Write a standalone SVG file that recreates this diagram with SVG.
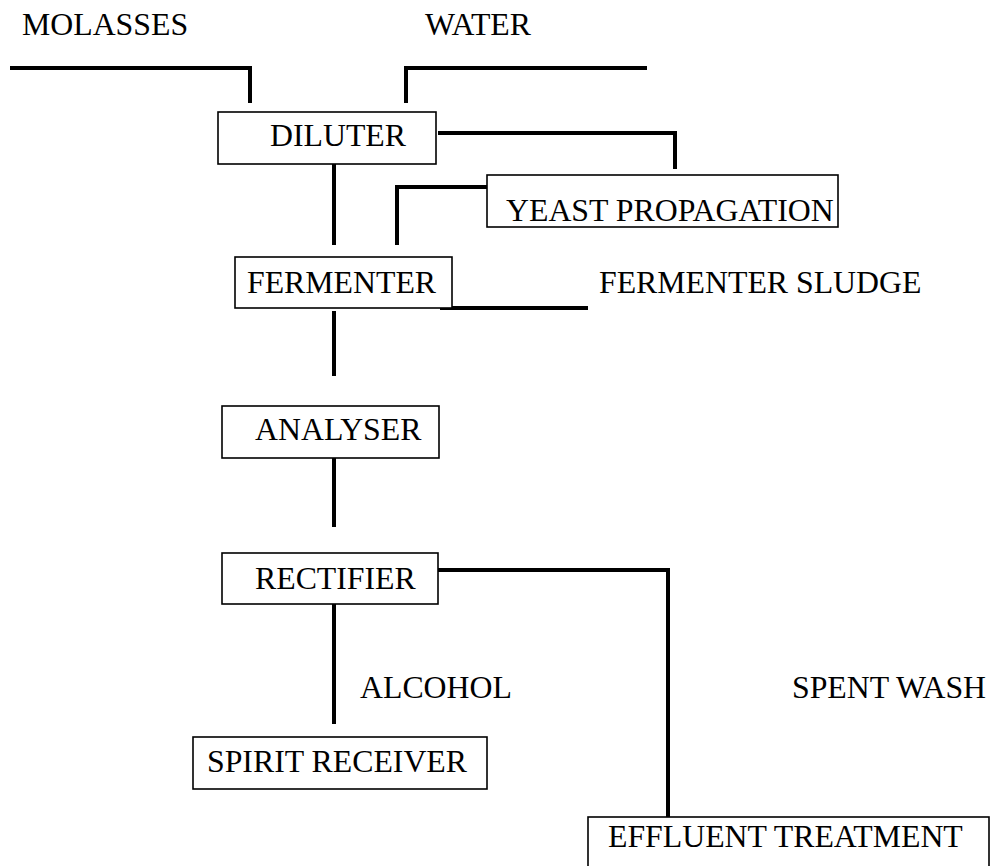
<svg xmlns="http://www.w3.org/2000/svg" width="993" height="866" viewBox="0 0 993 866">
<style>
text{font-family:"Liberation Serif","Times New Roman",serif;font-size:31.8px;fill:#000}
.box{fill:#fff;stroke:#000;stroke-width:1.6}
.pipe{fill:none;stroke:#000;stroke-width:4;stroke-linejoin:miter;stroke-linecap:butt}
</style>
<rect width="993" height="866" fill="#fff"/>
<g id="labels">
<text x="22" y="35">MOLASSES</text>
<text x="425" y="35">WATER</text>
<text x="599" y="293">FERMENTER SLUDGE</text>
<text x="360" y="698">ALCOHOL</text>
<text x="792" y="698">SPENT WASH</text>
</g>
<g id="connectors">
<polyline class="pipe" points="10,68 250,68 250,103"/>
<polyline class="pipe" points="406,103 406,68 647,68"/>
<polyline class="pipe" points="438,133 675,133 675,169"/>
<line class="pipe" x1="334" y1="164" x2="334" y2="245"/>
<polyline class="pipe" points="487,187 397,187 397,245"/>
<line class="pipe" x1="440" y1="308" x2="588" y2="308"/>
<line class="pipe" x1="334" y1="311" x2="334" y2="376"/>
<line class="pipe" x1="334" y1="455" x2="334" y2="527"/>
<polyline class="pipe" points="433,570 668,570 668,817"/>
<line class="pipe" x1="334" y1="602" x2="334" y2="724"/>
</g>
<g id="diluter">
<rect class="box" x="218" y="112" width="218" height="52"/>
<text x="270" y="146">DILUTER</text>
</g>
<g id="yeast-propagation">
<rect class="box" x="487" y="175" width="351" height="52"/>
<text x="506" y="221">YEAST PROPAGATION</text>
</g>
<g id="fermenter">
<rect class="box" x="235" y="257" width="217" height="51"/>
<text x="247" y="293">FERMENTER</text>
</g>
<g id="analyser">
<rect class="box" x="222" y="406" width="217" height="52"/>
<text x="255" y="440">ANALYSER</text>
</g>
<g id="rectifier">
<rect class="box" x="222" y="553" width="216" height="51"/>
<text x="255" y="589">RECTIFIER</text>
</g>
<g id="spirit-receiver">
<rect class="box" x="193" y="737" width="294" height="52"/>
<text x="207" y="772">SPIRIT RECEIVER</text>
</g>
<g id="effluent-treatment">
<rect class="box" x="588" y="817" width="401" height="60"/>
<text x="608" y="847">EFFLUENT TREATMENT</text>
</g>
</svg>
